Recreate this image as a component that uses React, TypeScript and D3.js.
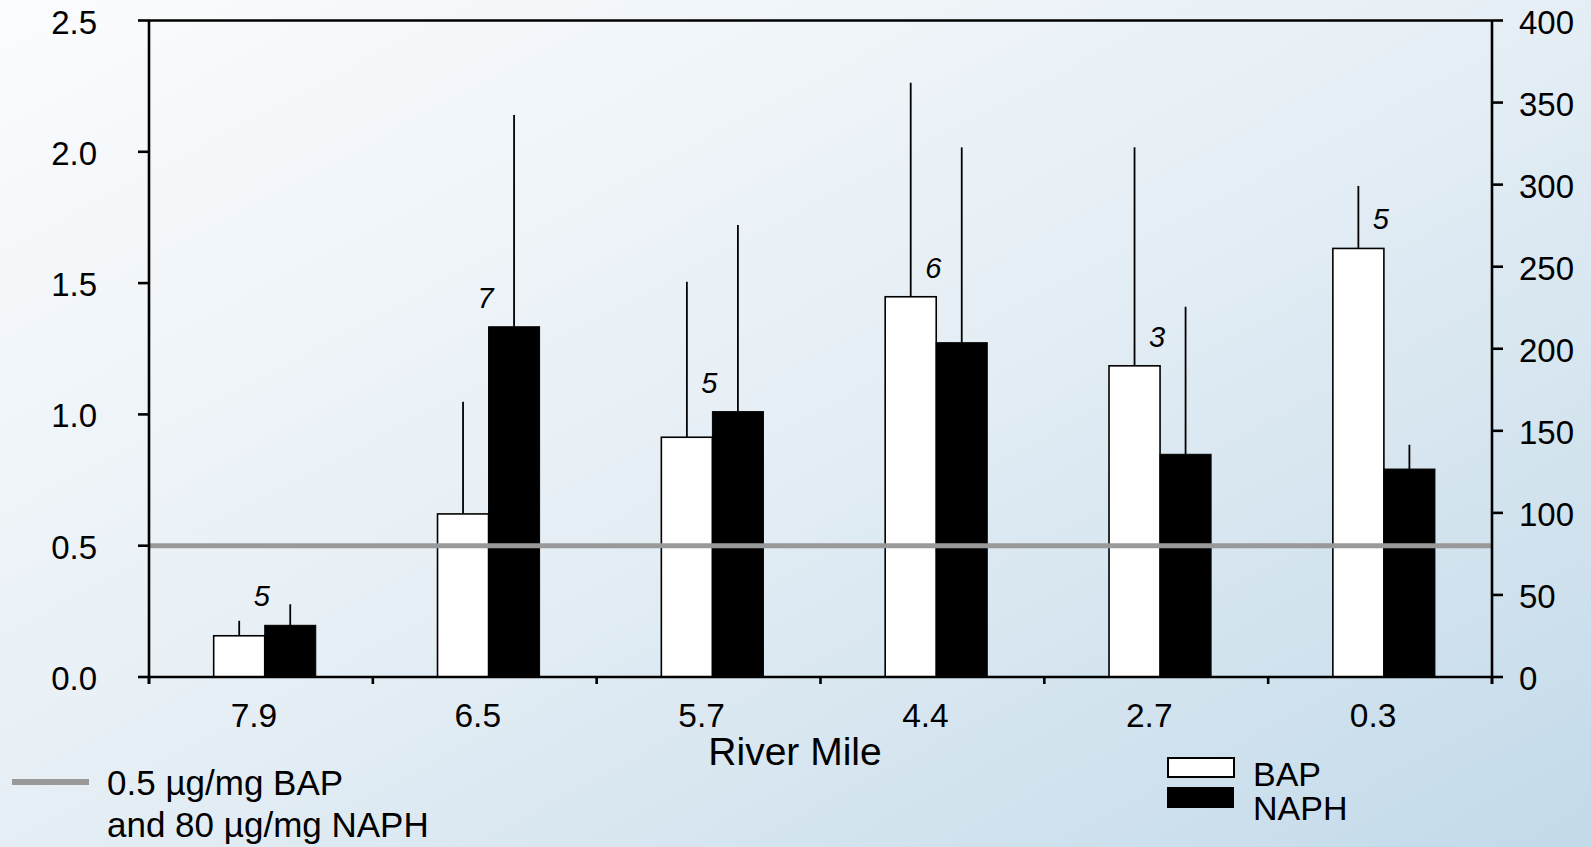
import React, { useEffect, useRef } from "react";
import * as d3 from "d3";

const categories = ["7.9", "6.5", "5.7", "4.4", "2.7", "0.3"];
const bapMean = [0.157, 0.621, 0.913, 1.448, 1.185, 1.632];
const bapSD = [0.057, 0.427, 0.592, 0.815, 0.832, 0.238];
const naphMean = [31.5, 213.4, 161.7, 203.7, 135.7, 126.7];
const naphSD = [12.8, 129.0, 113.7, 119.0, 89.9, 14.8];
const sampleN = [5, 7, 5, 6, 3, 5];
const leftTicks = [0, 0.5, 1.0, 1.5, 2.0, 2.5];
const rightTicks = [0, 50, 100, 150, 200, 250, 300, 350, 400];
const bapThreshold = 0.5;
const xTitle = "River Mile";
const legendLine1 = "0.5 \u00b5g/mg BAP";
const legendLine2 = "and 80 \u00b5g/mg NAPH";
const seriesNames = ["BAP", "NAPH"];

const W = 1591;
const H = 847;
const FONT = "'Liberation Sans', Arial, Helvetica, sans-serif";

export default function App() {
  const ref = useRef<SVGSVGElement | null>(null);

  useEffect(() => {
    document.body.style.margin = "0";
    document.body.style.overflow = "hidden";
    const svg = d3.select(ref.current);
    svg.selectAll("*").remove();

    const left = 149, right = 1492, top = 20.5, bottom = 677;

    const defs = svg.append("defs");
    const grad = defs.append("linearGradient").attr("id", "bg")
      .attr("x1", "0").attr("y1", "0").attr("x2", "1").attr("y2", "1");
    grad.append("stop").attr("offset", "0%").attr("stop-color", "#fbfcfd");
    grad.append("stop").attr("offset", "45%").attr("stop-color", "#e8f0f6");
    grad.append("stop").attr("offset", "100%").attr("stop-color", "#c3dae9");
    svg.append("rect").attr("width", W).attr("height", H).attr("fill", "url(#bg)");

    const x = d3.scaleBand<string>().domain(categories).range([left, right]).padding(0);
    const yL = d3.scaleLinear().domain([0, 2.5]).range([bottom, top]);
    const yR = d3.scaleLinear().domain([0, 400]).range([bottom, top]);
    const bw = x.bandwidth();
    const barW = bw * 0.228;
    const off = bw * 0.289;

    const g = svg.append("g");

    categories.forEach((c, i) => {
      const x0 = (x(c) as number) + off;
      const x1 = x0 + barW;
      g.append("line").attr("x1", x0 + barW / 2).attr("x2", x0 + barW / 2)
        .attr("y1", yL(bapMean[i])).attr("y2", yL(bapMean[i] + bapSD[i]))
        .attr("stroke", "#000").attr("stroke-width", 1.8);
      g.append("rect").attr("x", x0).attr("y", yL(bapMean[i]))
        .attr("width", barW).attr("height", bottom - yL(bapMean[i]))
        .attr("fill", "#fff").attr("stroke", "#000").attr("stroke-width", 1.6);
      g.append("line").attr("x1", x1 + barW / 2).attr("x2", x1 + barW / 2)
        .attr("y1", yR(naphMean[i])).attr("y2", yR(naphMean[i] + naphSD[i]))
        .attr("stroke", "#000").attr("stroke-width", 1.8);
      g.append("rect").attr("x", x1).attr("y", yR(naphMean[i]))
        .attr("width", barW).attr("height", bottom - yR(naphMean[i]))
        .attr("fill", "#000").attr("stroke", "#000").attr("stroke-width", 1);
      const topY = Math.min(yL(bapMean[i]), yR(naphMean[i]));
      g.append("text").attr("x", x1 - 3).attr("y", topY - 19)
        .attr("text-anchor", "middle").attr("font-style", "italic")
        .attr("font-family", FONT).attr("font-size", 29).attr("fill", "#000")
        .text(String(sampleN[i]));
    });

    g.append("line").attr("x1", left).attr("x2", right)
      .attr("y1", yL(bapThreshold)).attr("y2", yL(bapThreshold))
      .attr("stroke", "#999").attr("stroke-width", 5);

    const ax = svg.append("g").attr("stroke", "#000").attr("stroke-width", 2.6).attr("fill", "none");
    ax.append("line").attr("x1", left).attr("x2", left).attr("y1", top).attr("y2", bottom + 7);
    ax.append("line").attr("x1", right).attr("x2", right).attr("y1", top).attr("y2", bottom + 7);
    ax.append("line").attr("x1", left).attr("x2", right).attr("y1", top).attr("y2", top);
    ax.append("line").attr("x1", left).attr("x2", right).attr("y1", bottom).attr("y2", bottom);
    leftTicks.forEach((t) => {
      ax.append("line").attr("x1", left - 11).attr("x2", left).attr("y1", yL(t)).attr("y2", yL(t));
    });
    rightTicks.forEach((t) => {
      ax.append("line").attr("x1", right).attr("x2", right + 11).attr("y1", yR(t)).attr("y2", yR(t));
    });
    const bounds = categories.map((c) => x(c) as number).concat([right]);
    bounds.forEach((b) => {
      ax.append("line").attr("x1", b).attr("x2", b).attr("y1", bottom).attr("y2", bottom + 7);
    });

    const txt = svg.append("g").attr("font-family", FONT).attr("fill", "#000");
    leftTicks.forEach((t) => {
      txt.append("text").attr("x", 97).attr("y", yL(t) + 13).attr("text-anchor", "end")
        .attr("font-size", 33).text(d3.format(".1f")(t));
    });
    rightTicks.forEach((t) => {
      txt.append("text").attr("x", 1519).attr("y", yR(t) + 13).attr("text-anchor", "start")
        .attr("font-size", 33).text(String(t));
    });
    categories.forEach((c) => {
      txt.append("text").attr("x", (x(c) as number) + bw / 2 - 7).attr("y", 727)
        .attr("text-anchor", "middle").attr("font-size", 33.5).text(c);
    });
    txt.append("text").attr("x", 795).attr("y", 765).attr("text-anchor", "middle")
      .attr("font-size", 39).text(xTitle);

    svg.append("line").attr("x1", 12).attr("x2", 89).attr("y1", 782).attr("y2", 782)
      .attr("stroke", "#999").attr("stroke-width", 6);
    txt.append("text").attr("x", 107).attr("y", 795).attr("font-size", 35).text(legendLine1);
    txt.append("text").attr("x", 107).attr("y", 837).attr("font-size", 35).text(legendLine2);

    svg.append("rect").attr("x", 1168).attr("y", 758).attr("width", 66).attr("height", 19)
      .attr("fill", "#fff").attr("stroke", "#000").attr("stroke-width", 2);
    svg.append("rect").attr("x", 1167).attr("y", 787).attr("width", 67).attr("height", 21)
      .attr("fill", "#000");
    txt.append("text").attr("x", 1253).attr("y", 786).attr("font-size", 34).text(seriesNames[0]);
    txt.append("text").attr("x", 1253).attr("y", 820).attr("font-size", 34).text(seriesNames[1]);
  }, []);

  return <svg ref={ref} width={W} height={H} style={{ display: "block" }} />;
}
